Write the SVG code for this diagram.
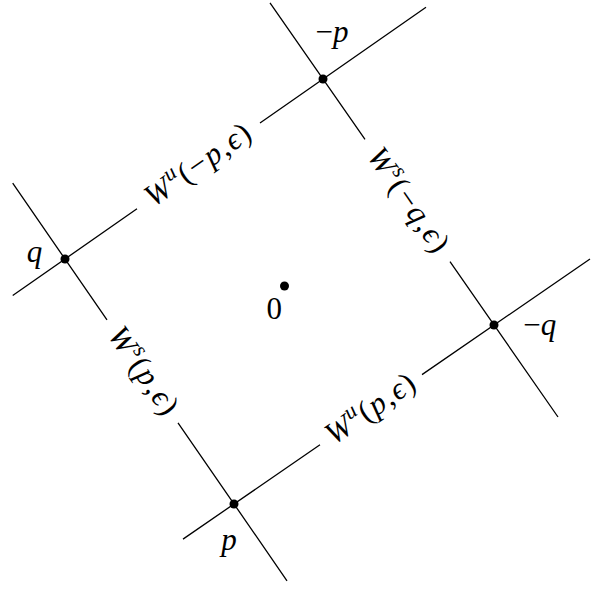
<svg xmlns="http://www.w3.org/2000/svg" width="591" height="602" viewBox="0 0 591 602">
<style>
.ln{stroke:#000;stroke-width:1.3;fill:none;stroke-linecap:butt}
.dot{fill:#000}
.m{font-family:"Liberation Serif","Times New Roman",serif;font-size:31px;fill:#000}
.i{font-style:italic}
.sup{font-size:22px;font-style:italic}
</style>
<rect width="591" height="602" fill="#fff"/>
<g id="connectors">
  <path class="ln" d="M12.7,295.5 L137,208.8 M260,123 L426,7.2"/>
  <path class="ln" d="M270,2.8 L365,139.4 M450,261.7 L558,417"/>
  <path class="ln" d="M12.7,183.2 L107,319.9 M178,422.8 L287,580.8"/>
  <path class="ln" d="M183,539.1 L320,444.8 M422,374.6 L590,259"/>
</g>
<g id="edge-labels">
  <g id="label-Wu-minus-p" transform="translate(198.5,165.8) rotate(-34.9)">
    <text class="m" x="0" y="8.5" text-anchor="middle" textLength="122" lengthAdjust="spacing"><tspan class="i">W</tspan><tspan class="sup" dy="-12">u</tspan><tspan dy="12">(−</tspan><tspan class="i">p</tspan>,<tspan class="i">ϵ</tspan>)</text>
  </g>
  <g id="label-Ws-minus-q" transform="translate(407.5,200.5) rotate(55.2)">
    <text class="m" x="0" y="8.5" text-anchor="middle" textLength="120" lengthAdjust="spacing"><tspan class="i">W</tspan><tspan class="sup" dy="-12">s</tspan><tspan dy="12">(−</tspan><tspan class="i">q</tspan>,<tspan class="i">ϵ</tspan>)</text>
  </g>
  <g id="label-Ws-p" transform="translate(142.5,371.3) rotate(55.4)">
    <text class="m" x="0" y="8.5" text-anchor="middle" textLength="100" lengthAdjust="spacing"><tspan class="i">W</tspan><tspan class="sup" dy="-12">s</tspan><tspan dy="12">(</tspan><tspan class="i">p</tspan>,<tspan class="i">ϵ</tspan>)</text>
  </g>
  <g id="label-Wu-p" transform="translate(371,409.7) rotate(-34.5)">
    <text class="m" x="0" y="8.5" text-anchor="middle" textLength="102" lengthAdjust="spacing"><tspan class="i">W</tspan><tspan class="sup" dy="-12">u</tspan><tspan dy="12">(</tspan><tspan class="i">p</tspan>,<tspan class="i">ϵ</tspan>)</text>
  </g>
</g>
<g id="node-minus-p">
  <circle class="dot" cx="323" cy="79" r="4.5"/>
  <text class="m" x="332" y="41.5" text-anchor="middle">−<tspan class="i">p</tspan></text>
</g>
<g id="node-q">
  <circle class="dot" cx="65" cy="259" r="4.5"/>
  <text class="m i" x="34.5" y="261.5" text-anchor="middle">q</text>
</g>
<g id="node-minus-q">
  <circle class="dot" cx="494" cy="325" r="4.5"/>
  <text class="m" x="539.7" y="334.5" text-anchor="middle">−<tspan class="i">q</tspan></text>
</g>
<g id="node-p">
  <circle class="dot" cx="234" cy="504" r="4.5"/>
  <text class="m i" x="229" y="550" text-anchor="middle">p</text>
</g>
<g id="node-0">
  <circle class="dot" cx="284.5" cy="286" r="4.5"/>
  <text class="m" x="274.3" y="319.3" text-anchor="middle">0</text>
</g>
</svg>
